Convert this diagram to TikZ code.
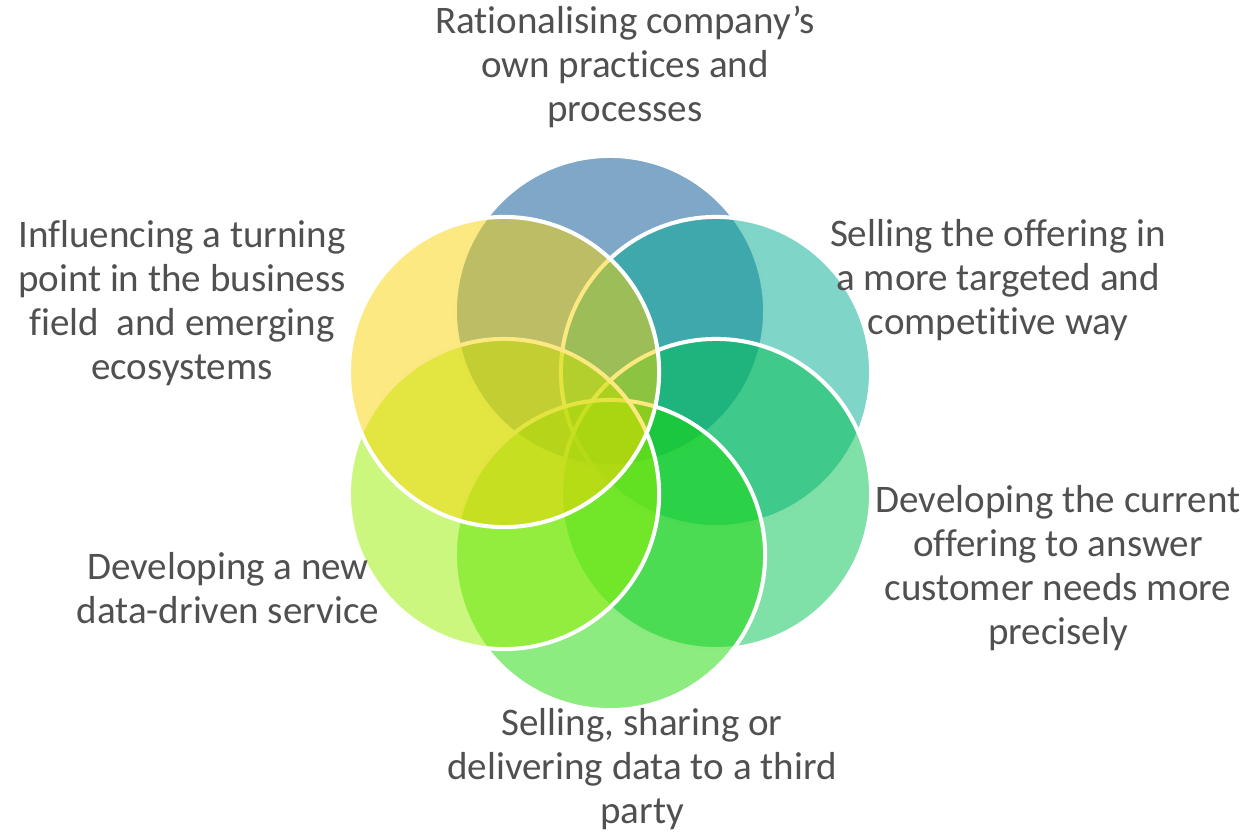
\documentclass[tikz,border=0pt]{standalone}
\usepackage{fontspec}
\setmainfont{Carlito}[Ligatures=NoCommon]
\definecolor{textgray}{RGB}{80,80,80}
\definecolor{petalblue}{RGB}{0,79,145}
\definecolor{petalteal}{RGB}{0,171,145}
\definecolor{petalgreen}{RGB}{0,193,81}
\definecolor{petalbright}{RGB}{25,217,1}
\definecolor{petallime}{RGB}{153,239,0}
\definecolor{petalyellow}{RGB}{251,211,5}

\begin{document}
\begin{tikzpicture}[x=0.01cm,y=-0.01cm,
  petal/.style={circle,draw=white,line width=1.15pt,fill opacity=0.5,minimum size=3.1cm,inner sep=0pt},
  lbl/.style={align=center,text=textgray,font=\fontsize{11.1}{12.5}\selectfont,inner sep=0pt}]

  \useasboundingbox (0,0) rectangle (1243,836);

  % circles, first one lies at the bottom
  \node(rational)[petal,fill=petalblue]   at (610,311) {};
  \node(selling) [petal,fill=petalteal]   at (716,372) {};
  \node(current) [petal,fill=petalgreen]  at (716,494) {};
  \node(thirdpty)[petal,fill=petalbright] at (610,555) {};
  \node(newsrv)  [petal,fill=petallime]   at (504,494) {};
  \node(turning) [petal,fill=petalyellow] at (504,372) {};

  % texts round the flower
  \node(rationaltxt)[lbl] at (625,67)  {Rationalising company’s\\own practices and\\processes};
  \node(sellingtxt) [lbl] at (998,280) {Selling the offering in\\a more targeted and\\competitive way};
  \node(currenttxt) [lbl] at (1058,568){Developing the current\\offering to answer\\customer needs more\\precisely};
  \node(thirdptytxt)[lbl] at (642,769) {Selling, sharing or\\delivering data to a third\\party};
  \node(newsrvtxt)  [lbl] at (228,588) {Developing a new\\data-driven service};
  \node(turningtxt) [lbl] at (182,303) {Influencing a turning\\point in the business\\field~ and emerging\\ecosystems};
\end{tikzpicture}
\end{document}
